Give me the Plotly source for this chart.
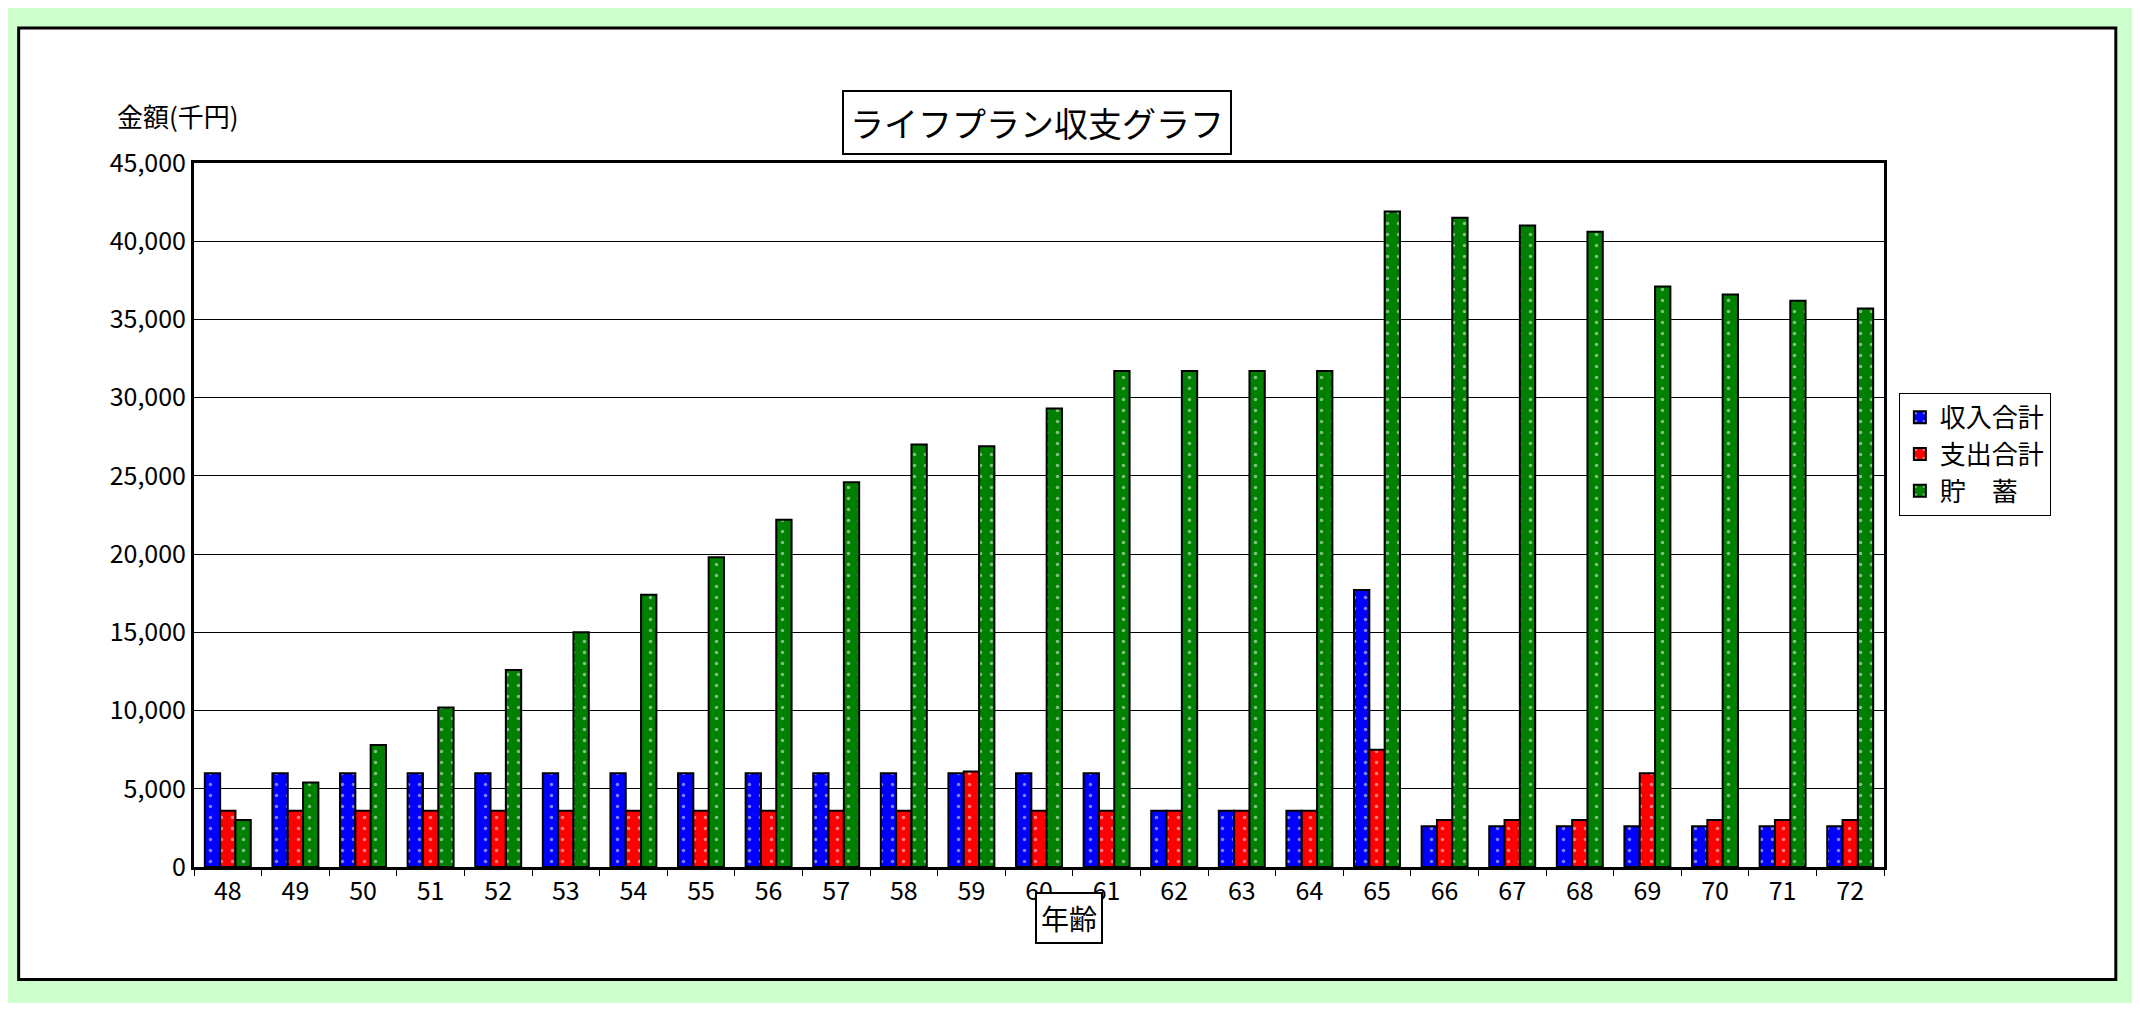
import plotly.graph_objects as go

# データ
ages = [str(a) for a in range(48, 73)]
income = [6000] * 14 + [3600] * 3 + [17700] + [2600] * 7
expense = [3600] * 11 + [6100] + [3600] * 5 + [7500] + [3000] * 3 + [6000] + [3000] * 3
savings = [3000, 5400, 7800, 10200, 12600, 15000, 17400, 19800, 22200, 24600,
           27000, 26900, 29300, 31700, 31700, 31700, 31700, 41900, 41500, 41000,
           40600, 37100, 36600, 36200, 35700]
series_names = ["収入合計", "支出合計", "貯　蓄"]
series_colors = ["#0000FF", "#FF0000", "#008000"]

W, H = 2140, 1011
L, R, T, B = 186, 248, 155, 136
pw, ph = W - L - R, H - T - B


def px(x, y):
    return (x - L) / pw, (H - B - y) / ph


FONT = "Noto Sans CJK JP"

fig = go.Figure()
for name, vals, clr in zip(series_names, [income, expense, savings], series_colors):
    fig.add_trace(go.Bar(
        x=ages, y=vals, name=name, legendgroup=name,
        marker=dict(color=clr, line=dict(color="black", width=2),
                    pattern=dict(shape=".", fgcolor="white", bgcolor=clr,
                                 size=11, solidity=0.08)),
    ))

x0, y0 = px(9, 17)
x1, y1 = px(2126, 990)
shapes = [dict(type="rect", xref="paper", yref="paper", x0=x0, y0=y1, x1=x1, y1=y0,
               fillcolor="white", line=dict(color="black", width=3), layer="below")]

annos = []
tx, ty = px(1037, 80)
annos.append(dict(text="ライフプラン収支グラフ", x=tx, y=ty, xref="paper", yref="paper",
                  showarrow=False, font=dict(size=34, family=FONT, color="black"),
                  bordercolor="black", borderwidth=2, borderpad=6, bgcolor="white"))
tx, ty = px(106, 85)
annos.append(dict(text="金額(千円)", x=tx, y=ty, xref="paper", yref="paper",
                  showarrow=False, font=dict(size=26, family=FONT, color="black")))
tx, ty = px(1069, 954)
annos.append(dict(text="年齢", x=tx, y=ty, xref="paper", yref="paper",
                  showarrow=False, font=dict(size=28, family=FONT, color="black"),
                  bordercolor="black", borderwidth=2, borderpad=4, bgcolor="white"))

lx, ly = px(1907, 390)
fig.update_layout(
    width=None, height=None, autosize=True,
    margin=dict(l=L, r=R, t=T, b=B),
    paper_bgcolor="#CCFFCC",
    plot_bgcolor="#FFFFD8",
    font=dict(family=FONT, size=24, color="black"),
    barmode="group", bargap=0.32, bargroupgap=0,
    shapes=shapes, annotations=annos,
    legend=dict(x=lx, y=ly, xanchor="left", yanchor="top",
                bgcolor="white", bordercolor="black", borderwidth=1,
                font=dict(size=26, family=FONT), itemwidth=30,
                tracegroupgap=22, traceorder="normal"),
    xaxis=dict(type="category", showline=True, linecolor="black", linewidth=3,
               mirror=True, ticks="outside", tickson="boundaries", ticklen=6,
               tickcolor="black", showgrid=False,
               tickfont=dict(size=25, family=FONT)),
    yaxis=dict(range=[0, 45000], dtick=5000, tickformat=",", showline=True,
               linecolor="black", linewidth=3, mirror=True, gridcolor="black",
               gridwidth=1, zeroline=False, ticks="", ticklen=0,
               tickfont=dict(size=25, family=FONT)),
)

fig.write_html("out.html", default_width="100%", default_height="100%",
               config={"responsive": True})
